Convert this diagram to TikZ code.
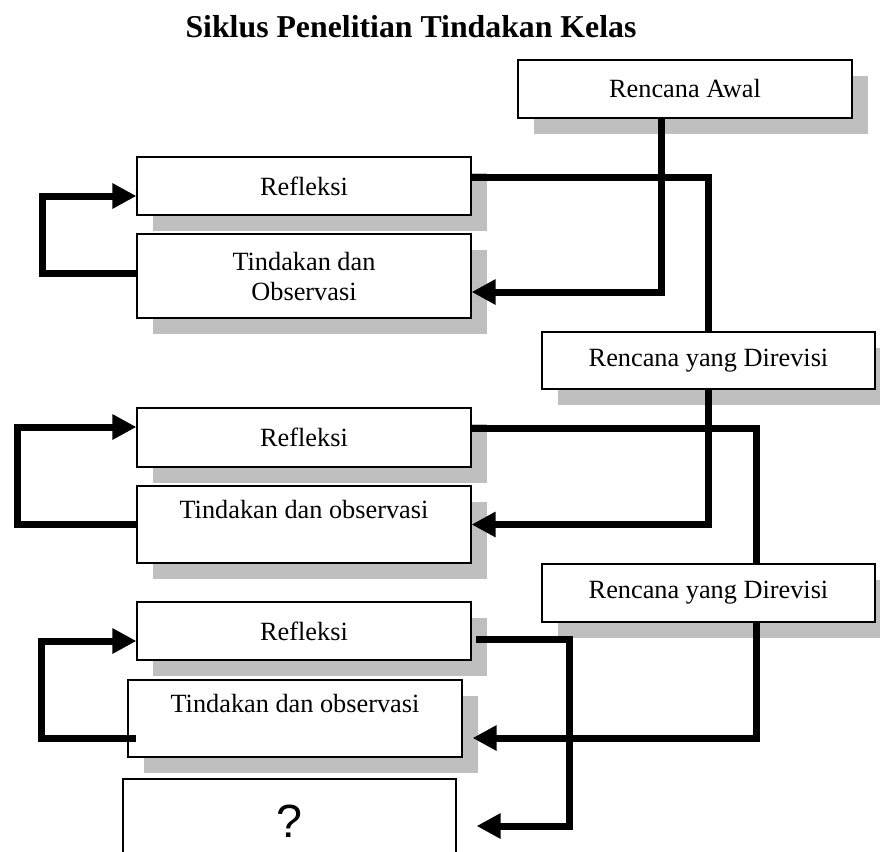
\documentclass[tikz,border=0pt]{standalone}
\usepackage{fontspec}
\setmainfont{Liberation Serif}
\newfontfamily\tanyafont{Liberation Sans}
\usepackage{tikz}
\usetikzlibrary{arrows.meta, shadows}

\begin{document}
\begin{tikzpicture}[
  x=0.5pt, y=-0.5pt,
  box/.style={rectangle, draw=black, line width=0.6pt, fill=white, minimum width=167pt,
    align=center, font=\fontsize{13.15pt}{15pt}\selectfont,
    drop shadow={shadow xshift=8pt, shadow yshift=-8pt, fill=black!25, opacity=1}},
  plainbox/.style={rectangle, draw=black, line width=0.6pt, fill=white, minimum width=167pt},
  link/.style={line width=3.5pt, line join=miter},
  flow/.style={link, -{Triangle[length=12pt, width=12pt]}},
  title/.style={font=\fontsize{15.9pt}{18pt}\selectfont\bfseries}
]
\clip (0,0) rectangle (880,852);

% Title
\node[title, anchor=base] (judul) at (411,37) {Siklus Penelitian Tindakan Kelas};

% Rencana
\node[box, minimum height=29pt] (awal) at (685,89) {Rencana Awal};
\node[box, minimum height=28.5pt, minimum width=166.5pt] (rev1) at (708.5,360.5) {Rencana yang Direvisi};
\node[box, minimum height=29pt, minimum width=166.5pt] (rev2) at (708.5,593) {Rencana yang Direvisi};

% Siklus 1
\node[box, minimum height=29pt] (ref1) at (304,186) {Refleksi};
\node[box, minimum height=42pt] (tin1) at (304,276) {Tindakan dan\\Observasi};

% Siklus 2
\node[box, minimum height=29.5pt] (ref2) at (304,437.5) {Refleksi};
\node[box, minimum height=38.5pt] (tin2) at (304,524.5) {Tindakan dan observasi\\~};

% Siklus 3
\node[box, minimum height=29pt] (ref3) at (304,631) {Refleksi};
\node[box, minimum height=38.5pt] (tin3) at (295,718.5) {Tindakan dan observasi\\~};

% Next
\node[plainbox, minimum height=42pt, minimum width=166.5pt] (tanya) at (289.5,821)
  {\tanyafont\fontsize{23.3pt}{26pt}\selectfont ?};

% Connections
\draw[flow] ([xshift=-12pt]awal.south) |- ([yshift=-8pt]tin1.east);
\draw[flow] ([yshift=1.5pt]tin1.west) -- ++(-47pt,0) |- ([yshift=-5pt]ref1.west);
\draw[link] ([yshift=4.5pt]ref1.east) -| (rev1.north);

\draw[flow] (rev1.south) |- (tin2.east);
\draw[flow] (tin2.west) -- ++(-59.5pt,0) |- ([yshift=5.25pt]ref2.west);
\draw[link] ([yshift=4.75pt]ref2.east) -| ([xshift=23.75pt]rev2.north);

\draw[flow] ([xshift=23.75pt]rev2.south) |- ([xshift=5pt, yshift=-9.75pt]tin3.east);
\draw[flow] ([xshift=4.5pt, yshift=-9.75pt]tin3.west) -- ++(-47.5pt,0) |- ([yshift=-5pt]ref3.west);
\draw[flow] ([xshift=2pt, yshift=-4pt]ref3.east) -- ++(47pt,0) |- ([xshift=10pt, yshift=-2.5pt]tanya.east);

\end{tikzpicture}
\end{document}
